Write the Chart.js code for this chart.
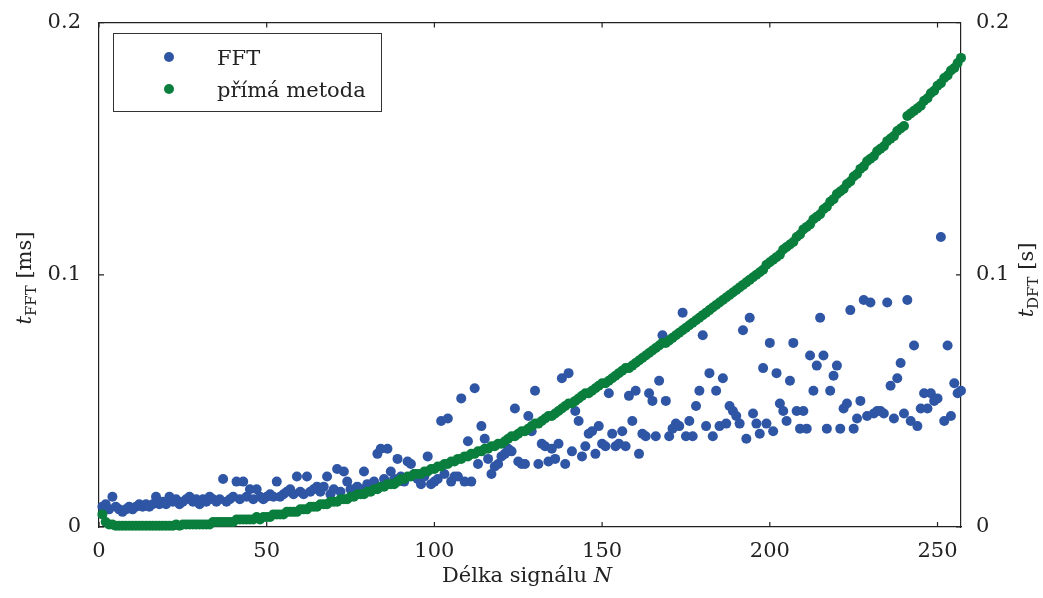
<!DOCTYPE html>
<html>
<head>
<meta charset="utf-8">
<script src="https://cdn.jsdelivr.net/npm/chart.js@4.4.1/dist/chart.umd.min.js"></script>
<style>
  html, body { margin: 0; padding: 0; background: #fff; }
  #wrap { width: 1043px; height: 598px; }
</style>
</head>
<body>
<div id="wrap"><canvas id="chart" width="1043" height="598"></canvas></div>
<script>
// signal length N = 1 .. 257
const signalLengths = Array.from({ length: 257 }, (_, i) => i + 1);

// FFT time [ms]
const fftTimes = [
  0.008,0.009,0.007,0.012,0.008,0.007,0.006,0.007,0.008,0.007,
  0.008,0.009,0.008,0.009,0.008,0.009,0.012,0.009,0.010,0.009,
  0.012,0.010,0.011,0.009,0.010,0.011,0.012,0.010,0.011,0.009,
  0.011,0.010,0.012,0.011,0.010,0.011,0.019,0.010,0.011,0.012,
  0.018,0.011,0.018,0.012,0.015,0.011,0.015,0.012,0.011,0.012,
  0.013,0.012,0.018,0.012,0.013,0.014,0.015,0.013,0.020,0.014,
  0.013,0.020,0.014,0.015,0.016,0.014,0.016,0.020,0.013,0.015,
  0.023,0.014,0.022,0.018,0.015,0.013,0.016,0.015,0.022,0.017,
  0.016,0.018,0.029,0.031,0.019,0.031,0.022,0.019,0.027,0.020,
  0.018,0.026,0.025,0.021,0.019,0.017,0.020,0.028,0.017,0.018,
  0.019,0.042,0.021,0.043,0.018,0.020,0.020,0.051,0.018,0.034,
  0.018,0.055,0.025,0.040,0.035,0.027,0.021,0.024,0.025,0.028,
  0.029,0.031,0.030,0.047,0.026,0.025,0.025,0.044,0.038,0.054,
  0.025,0.033,0.032,0.026,0.031,0.027,0.033,0.059,0.025,0.061,
  0.030,0.046,0.042,0.028,0.032,0.037,0.038,0.029,0.040,0.033,
  0.032,0.053,0.037,0.032,0.033,0.038,0.032,0.052,0.042,0.054,
  0.029,0.037,0.036,0.053,0.050,0.036,0.058,0.076,0.050,0.036,
  0.039,0.041,0.040,0.085,0.036,0.042,0.036,0.048,0.054,0.076,
  0.040,0.061,0.036,0.054,0.040,0.059,0.041,0.048,0.046,0.044,
  0.041,0.078,0.035,0.083,0.045,0.041,0.037,0.063,0.041,0.073,
  0.038,0.061,0.049,0.046,0.042,0.058,0.073,0.046,0.039,0.046,
  0.039,0.068,0.054,0.064,0.083,0.068,0.039,0.054,0.060,0.064,
  0.039,0.047,0.049,0.086,0.039,0.043,0.050,0.090,0.044,0.089,
  0.045,0.046,0.046,0.045,0.089,0.056,0.043,0.059,0.065,0.045,
  0.090,0.042,0.072,0.040,0.047,0.053,0.047,0.053,0.050,0.051,
  0.115,0.042,0.072,0.044,0.057,0.053,0.054
];

// direct DFT time [s]
const directTimes = [
  0.005,0.002,0.001,0.001,0.0005,0.0005,0.0005,0.0005,0.0005,0.0005,
  0.0005,0.0005,0.0005,0.0005,0.0005,0.0005,0.0005,0.0005,0.0005,0.0005,
  0.0005,0.0005,0.001,0.0005,0.001,0.001,0.001,0.001,0.001,0.001,
  0.001,0.001,0.001,0.002,0.002,0.002,0.002,0.002,0.002,0.002,
  0.003,0.003,0.003,0.003,0.003,0.003,0.004,0.003,0.004,0.004,
  0.004,0.005,0.005,0.005,0.005,0.006,0.006,0.006,0.006,0.007,
  0.007,0.007,0.008,0.008,0.008,0.009,0.009,0.009,0.010,0.010,
  0.010,0.011,0.011,0.011,0.012,0.012,0.013,0.013,0.013,0.014,
  0.014,0.015,0.015,0.016,0.016,0.017,0.017,0.017,0.018,0.019,
  0.019,0.020,0.020,0.021,0.021,0.021,0.022,0.022,0.023,0.023,
  0.024,0.024,0.025,0.025,0.026,0.026,0.027,0.027,0.028,0.028,
  0.029,0.029,0.030,0.030,0.031,0.031,0.032,0.032,0.033,0.033,
  0.034,0.035,0.036,0.036,0.037,0.038,0.038,0.039,0.040,0.041,
  0.041,0.042,0.043,0.044,0.044,0.045,0.046,0.047,0.048,0.049,
  0.049,0.050,0.051,0.052,0.053,0.053,0.054,0.055,0.056,0.057,
  0.057,0.058,0.059,0.060,0.061,0.062,0.063,0.063,0.064,0.065,
  0.066,0.067,0.068,0.069,0.070,0.071,0.072,0.073,0.073,0.074,
  0.075,0.076,0.077,0.078,0.079,0.080,0.081,0.082,0.083,0.084,
  0.085,0.086,0.087,0.088,0.089,0.090,0.091,0.092,0.093,0.094,
  0.095,0.096,0.097,0.098,0.099,0.100,0.101,0.102,0.104,0.105,
  0.106,0.107,0.108,0.110,0.111,0.112,0.113,0.115,0.116,0.118,
  0.119,0.120,0.122,0.123,0.124,0.126,0.127,0.129,0.130,0.132,
  0.133,0.134,0.136,0.137,0.139,0.140,0.142,0.143,0.145,0.146,
  0.147,0.149,0.150,0.151,0.153,0.154,0.155,0.157,0.158,0.159,
  0.163,0.164,0.165,0.166,0.167,0.169,0.170,0.172,0.173,0.175,
  0.176,0.178,0.179,0.181,0.182,0.184,0.186
];

const xTicks = [0, 50, 100, 150, 200, 250];
const timeTicks = [0, 0.1, 0.2];
const seriesNames = ['FFT', 'přímá metoda'];
const seriesColors = ['#2f55a5', '#0a7e3c'];

const FONT = '"DejaVu Serif", "Liberation Serif", serif';
const INK = '#222';

// frame, inward ticks, x tick labels, axis titles and the boxed legend
const decorPlugin = {
    id: 'decor',
    afterDraw(chart) {
        const { ctx, chartArea: a, scales } = chart;
        ctx.save();
        ctx.strokeStyle = INK;
        ctx.lineWidth = 1.2;

        // top border
        ctx.beginPath();
        ctx.moveTo(a.left, a.top);
        ctx.lineTo(a.right, a.top);
        ctx.stroke();

        // inward tick marks
        ctx.beginPath();
        xTicks.forEach(v => {
            const px = scales.x.getPixelForValue(v);
            ctx.moveTo(px, a.bottom); ctx.lineTo(px, a.bottom - 5);
            ctx.moveTo(px, a.top); ctx.lineTo(px, a.top + 5);
        });
        timeTicks.forEach(v => {
            const py = scales.y.getPixelForValue(v);
            ctx.moveTo(a.left, py); ctx.lineTo(a.left + 5, py);
            ctx.moveTo(a.right, py); ctx.lineTo(a.right - 5, py);
        });
        ctx.stroke();

        ctx.fillStyle = INK;
        ctx.textBaseline = 'alphabetic';

        // x tick labels
        ctx.font = '21px ' + FONT;
        ctx.textAlign = 'center';
        xTicks.forEach(v => {
            ctx.fillText(String(v), scales.x.getPixelForValue(v), a.bottom + 30);
        });
        ctx.textAlign = 'left';

        // x title: "Délka signálu N"
        ctx.font = '21px ' + FONT;
        const part1 = 'Délka signálu ';
        const w1 = ctx.measureText(part1).width;
        ctx.font = 'italic 21px ' + FONT;
        const w2 = ctx.measureText('N').width;
        const xc = (a.left + a.right) / 2 - 3;
        let sx = xc - (w1 + w2) / 2;
        ctx.font = '21px ' + FONT;
        ctx.fillText(part1, sx, 582);
        ctx.font = 'italic 21px ' + FONT;
        ctx.fillText('N', sx + w1, 582);

        // rotated y titles with subscripts
        function yTitle(cx, cy, sub, unit) {
            ctx.save();
            ctx.translate(cx, cy);
            ctx.rotate(-Math.PI / 2);
            ctx.font = 'italic 21px ' + FONT;
            const wt = ctx.measureText('t').width;
            ctx.font = '15px ' + FONT;
            const ws = ctx.measureText(sub).width;
            ctx.font = '21px ' + FONT;
            const wu = ctx.measureText(unit).width;
            let x = -(wt + ws + wu) / 2;
            ctx.font = 'italic 21px ' + FONT;
            ctx.fillText('t', x, 0);
            x += wt;
            ctx.font = '15px ' + FONT;
            ctx.fillText(sub, x, 5);
            x += ws;
            ctx.font = '21px ' + FONT;
            ctx.fillText(unit, x, 0);
            ctx.restore();
        }
        yTitle(31, 278, 'FFT', ' [ms]');
        yTitle(1033, 280, 'DFT', ' [s]');

        // legend box
        ctx.fillStyle = '#fff';
        ctx.fillRect(113, 33, 269, 79);
        ctx.strokeStyle = '#333';
        ctx.lineWidth = 1;
        ctx.strokeRect(113.5, 33.5, 268, 78);
        const rows = [57, 89];
        ctx.font = '21px ' + FONT;
        seriesNames.forEach((name, i) => {
            ctx.fillStyle = seriesColors[i];
            ctx.beginPath();
            ctx.arc(169, rows[i], 5, 0, Math.PI * 2);
            ctx.fill();
            ctx.fillStyle = INK;
            ctx.fillText(name, 217, rows[i] + 8);
        });

        ctx.restore();
    }
};

const tickFont = { family: FONT, size: 21 };

new Chart(document.getElementById('chart').getContext('2d'), {
    type: 'scatter',
    data: {
        datasets: [
            {
                label: seriesNames[0],
                data: signalLengths.map((n, i) => ({ x: n, y: fftTimes[i] })),
                backgroundColor: seriesColors[0],
                borderWidth: 0,
                pointRadius: 5,
                pointHoverRadius: 5,
                yAxisID: 'y',
                clip: false,
                order: 2
            },
            {
                label: seriesNames[1],
                data: signalLengths.map((n, i) => ({ x: n, y: directTimes[i] })),
                backgroundColor: seriesColors[1],
                borderWidth: 0,
                pointRadius: 5,
                pointHoverRadius: 5,
                yAxisID: 'y2',
                clip: false,
                order: 1
            }
        ]
    },
    options: {
        responsive: false,
        animation: false,
        layout: { padding: { top: 20, left: 0, right: 0, bottom: 0 } },
        plugins: {
            legend: { display: false },
            tooltip: { enabled: false }
        },
        scales: {
            x: {
                type: 'linear',
                position: 'bottom',
                min: 0,
                max: 257,
                afterBuildTicks: s => { s.ticks = xTicks.map(v => ({ value: v })); },
                afterFit: s => { s.height = 71; },
                grid: { display: false },
                border: { display: true, color: INK, width: 1.2 },
                ticks: { display: false }
            },
            y: {
                position: 'left',
                min: 0,
                max: 0.2,
                afterBuildTicks: s => { s.ticks = timeTicks.map(v => ({ value: v })); },
                afterFit: s => { s.width = 99; },
                grid: { display: false },
                border: { display: true, color: INK, width: 1.2 },
                ticks: { font: tickFont, color: INK, padding: 10, callback: v => String(v) }
            },
            y2: {
                position: 'right',
                min: 0,
                max: 0.2,
                afterBuildTicks: s => { s.ticks = timeTicks.map(v => ({ value: v })); },
                afterFit: s => { s.width = 82; },
                grid: { display: false },
                border: { display: true, color: INK, width: 1.2 },
                ticks: { font: tickFont, color: INK, padding: 7, callback: v => String(v) }
            }
        }
    },
    plugins: [decorPlugin]
});
</script>
</body>
</html>
